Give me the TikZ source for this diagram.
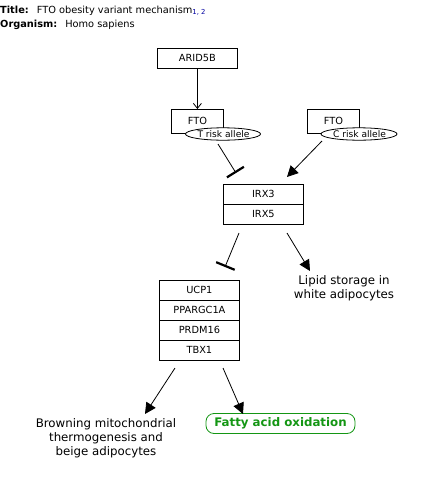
\documentclass[tikz,border=0pt]{standalone}
\usepackage{fontspec}
\setmainfont{DejaVu Sans}
\usetikzlibrary{arrows.meta,shapes.geometric,calc}
\definecolor{pwgreen}{RGB}{20,150,20}
\definecolor{refblue}{RGB}{0,0,160}
\begin{document}
\begin{tikzpicture}[x=1pt,y=-1pt,
  gene/.style={draw,line width=0.8pt,minimum width=80pt,minimum height=20pt,inner sep=0pt,font=\fontsize{9.8}{11}\selectfont,anchor=north west},
  allele/.style={inner sep=0pt,font=\fontsize{9.1}{11}\selectfont},
  label/.style={align=center,font=\fontsize{11.8}{13.8}\selectfont,inner sep=0pt},
  act/.style={line width=0.8pt,-{Triangle[length=11pt,width=11pt]}},
  openact/.style={line width=0.8pt,-{Straight Barb[length=5pt,width=8pt]}},
  inh/.style={line width=0.8pt,-{Bar[width=20pt,line width=2.2pt]}},
  ringline/.style={draw,line width=0.8pt,fill=white},
]
\useasboundingbox (0,0) rectangle (421,477);
% title
\node[anchor=base west,inner sep=0pt,font=\fontsize{9.8}{11}\selectfont] (title) at (0,13)
  {\textbf{Title:}\hspace{8pt}FTO obesity variant mechanism\textsubscript{\color{refblue}1, 2}};
\node[anchor=base west,inner sep=0pt,font=\fontsize{9.8}{11}\selectfont] (org) at (0,27)
  {\textbf{Organism:}\hspace{8pt}Homo sapiens};
% nodes
\node[gene] (arid) at (157,48) {ARID5B};
\node[gene,minimum width=52pt,minimum height=24pt] (ftoL) at (171,109) {\raisebox{2pt}{FTO}};
\node[gene,minimum width=52pt,minimum height=24pt] (ftoR) at (307,109) {\raisebox{2pt}{FTO}};
\path[ringline] (223,134) ellipse (37.5 and 6.2);
\path[ringline] (359,134) ellipse (38 and 6.2);
\node[allele] (tall) at (223.5,134) {T risk allele};
\node[allele] (call) at (359.5,134) {C risk allele};
\node[gene] (irx3) at (223,184) {IRX3};
\node[gene] (irx5) at (223,204) {IRX5};
\node[gene] (ucp) at (159,280) {UCP1};
\node[gene] (ppar) at (159,300) {PPARGC1A};
\node[gene] (prdm) at (159,320) {PRDM16};
\node[gene] (tbx) at (159,340) {TBX1};
\node[label] (lipid) at (344,288) {Lipid storage in\\white adipocytes};
\node[label] (brown) at (106,438) {Browning mitochondrial\\thermogenesis and\\beige adipocytes};
\node[draw=pwgreen,text=pwgreen,line width=0.8pt,rounded corners=8pt,minimum width=149pt,minimum height=20pt,inner sep=0pt,font=\fontsize{11.8}{13}\bfseries\selectfont] (fatty) at (280.5,423.5) {Fatty acid oxidation};
% connectors
\draw[openact] (arid.south) -- (ftoL.north -| arid.south);
\coordinate (t1) at (218,144);
\coordinate (t2) at (236,173);
\draw[inh] (t1) -- (t2);
\coordinate (c1) at (322,141);
\coordinate (c2) at (287,177);
\draw[act] (c1) -- (c2);
\coordinate (i1) at (239,233);
\coordinate (i2) at (225,267);
\draw[inh] (i1) -- (i2);
\coordinate (l1) at (287,233);
\coordinate (l2) at (310,271);
\draw[act] (l1) -- (l2);
\coordinate (b1) at (175,368);
\coordinate (b2) at (145,414);
\draw[act] (b1) -- (b2);
\coordinate (f1) at (223,368);
\coordinate (f2) at (243,414);
\draw[act] (f1) -- (f2);
\end{tikzpicture}
\end{document}
